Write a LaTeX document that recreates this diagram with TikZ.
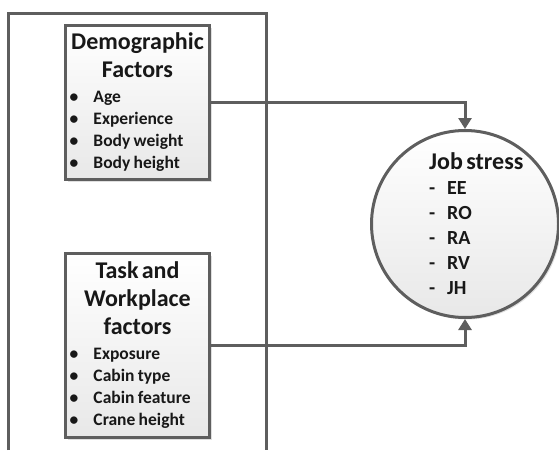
\documentclass[tikz,border=0pt]{standalone}
\usepackage{fontspec}
\setmainfont{Carlito}
\usepackage{tikz}
\usetikzlibrary{positioning, calc, arrows.meta, shadows}
\definecolor{linegray}{HTML}{5E5E5E}
\definecolor{textgray}{HTML}{181818}
\definecolor{fillgray}{HTML}{E8E8E8}
\newcommand{\titlefont}{\fontsize{24}{28}\selectfont\bfseries}
\newcommand{\itemfont}{\fontsize{17.5}{22}\selectfont\bfseries}
\newcommand{\bul}{\makebox[24pt][l]{\textbullet}}
\newcommand{\dsh}{\makebox[18pt][l]{-}}

\begin{document}
\begin{tikzpicture}[x=1pt, y=-1pt,
    frameline/.style={line width=3pt, draw=linegray},
    factorbox/.style={draw=linegray, line width=3pt, top color=white, bottom color=fillgray,
        drop shadow={opacity=0.25, shadow xshift=2pt, shadow yshift=-2pt},
        anchor=north west, text width=136pt, inner sep=4pt, align=left, text=textgray},
    stresscircle/.style={circle, draw=linegray, line width=3pt, top color=white, bottom color=fillgray,
        drop shadow={opacity=0.25, shadow xshift=2pt, shadow yshift=-2pt}, minimum size=187pt},
    link/.style={line width=3pt, draw=linegray, -{Triangle[length=11pt, width=13pt]}}]

    \useasboundingbox (0,0) rectangle (559,450);

    % --- LEFT: open frame round the factors ---
    \draw[frameline] (8,450) -- (8,13) -- (266,13) -- (266,450);

    % --- Factor boxes ---
    \node[factorbox, minimum height=154pt] (demo) at (64,24) {%
        {\centering\titlefont Demographic\\Factors\par}\vspace{3pt}
        {\itemfont \bul Age\\ \bul Experience\\ \bul Body weight\\ \bul Body height\par}};

    \node[factorbox, minimum height=184pt] (task) at (64,252) {%
        {\centering\titlefont Task and\\Workplace\\factors\par}\vspace{3pt}
        {\itemfont \bul Exposure\\ \bul Cabin type\\ \bul Cabin feature\\ \bul Crane height\par}};

    % --- RIGHT: outcome ---
    \node[stresscircle] (stress) at (465,224) {};
    \node[anchor=west, text width=110pt, inner sep=0pt, align=left, text=textgray] (stresstext) at (429,224) {%
        {\titlefont Job stress\par}
        {\fontsize{20}{25}\selectfont\bfseries \dsh EE\\ \dsh RO\\ \dsh RA\\ \dsh RV\\ \dsh JH\par}};

    % Links
    \draw[link] (demo.east) -| (stress.north);
    \draw[link] (task.east) -| (stress.south);

\end{tikzpicture}
\end{document}
